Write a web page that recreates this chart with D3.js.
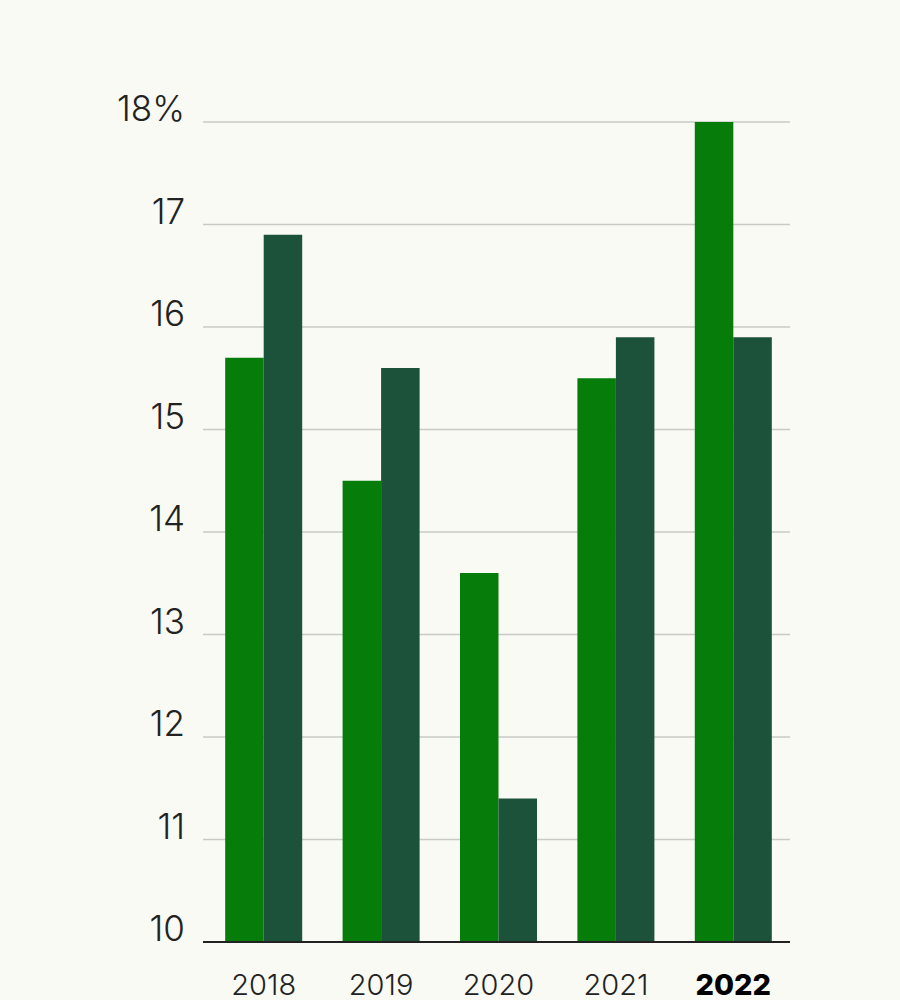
<!DOCTYPE html>
<html><head><meta charset="utf-8">
<script src="https://cdn.jsdelivr.net/npm/d3@7"></script>
<style>body{margin:0;background:#f8faf3}</style></head>
<body><svg id="c" width="900" height="1000"></svg>
<script>
const years=["2018","2019","2020","2021","2022"];
const seriesA=[15.7,14.5,13.6,15.5,18.0];
const seriesB=[16.9,15.6,11.4,15.9,15.9];
const ticks=[10,11,12,13,14,15,16,17,18];
const tickLabels=["10","11","12","13","14","15","16","17","18%"];
const svg=d3.select("#c");
svg.append("rect").attr("width",900).attr("height",1000).attr("fill","#f8faf3");
const y=d3.scaleLinear().domain([10,18]).range([942,122]);
const x=d3.scaleBand().domain(years).range([205,792]).paddingInner(0.344).paddingOuter(0.172);
const xi=d3.scaleBand().domain(["a","b"]).range([0,x.bandwidth()]);
const g=svg.append("g");
g.selectAll("line.g").data(ticks.slice(1)).join("line").attr("x1",203).attr("x2",790)
 .attr("y1",d=>y(d)).attr("y2",d=>y(d)).attr("stroke","#c9cbc6").attr("stroke-width",1.5);
g.selectAll("text.t").data(ticks).join("text").attr("x",185).attr("y",d=>y(d)-1)
 .attr("text-anchor","end").attr("font-family","Inter, sans-serif").attr("font-weight",300)
 .attr("font-size",35).attr("fill","#222").text((d,i)=>tickLabels[i]);
years.forEach((yr,i)=>{
 [["a",seriesA[i],"#067d0a"],["b",seriesB[i],"#1d523a"]].forEach(([k,v,c])=>{
  g.append("rect").attr("x",x(yr)+xi(k)).attr("width",xi.bandwidth()).attr("y",y(v))
   .attr("height",y(10)-y(v)).attr("fill",c);
 });
 g.append("text").attr("x",x(yr)+x.bandwidth()/2).attr("y",995).attr("text-anchor","middle")
  .attr("font-family","Inter, sans-serif").attr("font-size",29)
  .attr("font-weight",yr==="2022"?800:300).attr("fill",yr==="2022"?"#000":"#222").text(yr);
});
g.append("line").attr("x1",203).attr("x2",790).attr("y1",942).attr("y2",942).attr("stroke","#222").attr("stroke-width",2);
</script></body></html>
